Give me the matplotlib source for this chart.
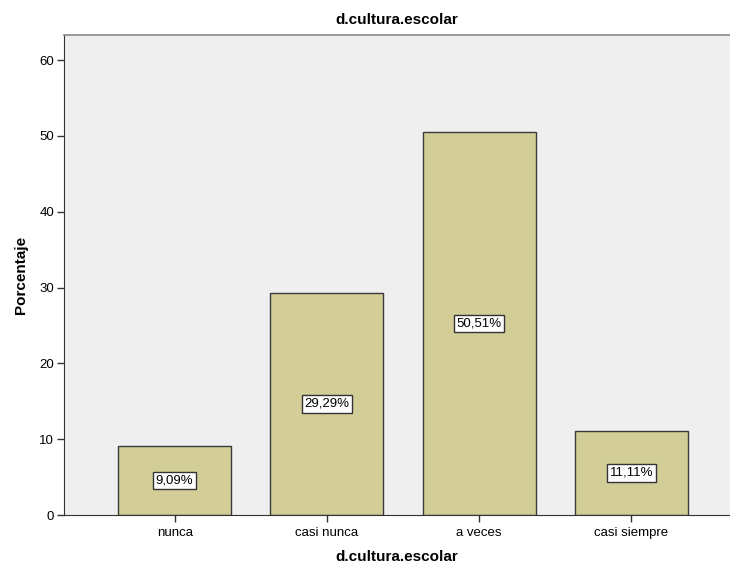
import matplotlib
matplotlib.use("Agg")
import matplotlib.pyplot as plt

categories = ["nunca", "casi nunca", "a veces", "casi siempre"]
percentages = [9.09, 29.29, 50.51, 11.11]
labels = ["9,09%", "29,29%", "50,51%", "11,11%"]
y_ticks = [0, 10, 20, 30, 40, 50, 60]

plt.rcParams['font.family'] = ['Liberation Sans', 'DejaVu Sans']

fig = plt.figure(figsize=(7.3, 5.66), dpi=100)
ax = fig.add_axes([64 / 730, 1 - 515 / 566, 1 - 64 / 730, (515 - 35) / 566])
ax.set_facecolor("#EFEFEF")

pos = list(range(len(categories)))
ax.bar(pos, percentages, width=0.743, color="#D3CE97", edgecolor="#3a3a3a", linewidth=1.0, zorder=2)

# value labels in white boxes at mid-height of each bar
for x, v, lab in zip(pos, percentages, labels):
    ax.text(x, v / 2, lab, ha="center", va="center", fontsize=9.5, zorder=3,
            bbox=dict(boxstyle="square,pad=0.2", facecolor="white", edgecolor="#333333", linewidth=1.0))

ax.set_xlim(-0.727, 3.648)
ax.set_ylim(0, 63.3)
ax.set_yticks(y_ticks)
ax.set_xticks(pos)
ax.set_xticklabels(categories, fontsize=9.5, va="baseline")
ax.tick_params(axis="y", labelsize=9.5, length=5, width=1, color="#333333", pad=2)
ax.tick_params(axis="x", length=5, width=1, color="#333333", pad=10)

ax.spines["right"].set_visible(False)
ax.spines["top"].set_color("#8a8a8a")
ax.spines["top"].set_linewidth(1.2)
ax.spines["left"].set_color("#333333")
ax.spines["bottom"].set_color("#333333")

ax.set_title("d.cultura.escolar", fontsize=11, fontweight="bold", pad=8)
ax.set_xlabel("d.cultura.escolar", fontsize=11, fontweight="bold")
ax.xaxis.set_label_coords((397 - 64) / (730 - 64), -(550 - 515) / (515 - 35))
ax.set_ylabel("Porcentaje", fontsize=11, fontweight="bold", labelpad=8)

fig.savefig("out.png", dpi=100)
